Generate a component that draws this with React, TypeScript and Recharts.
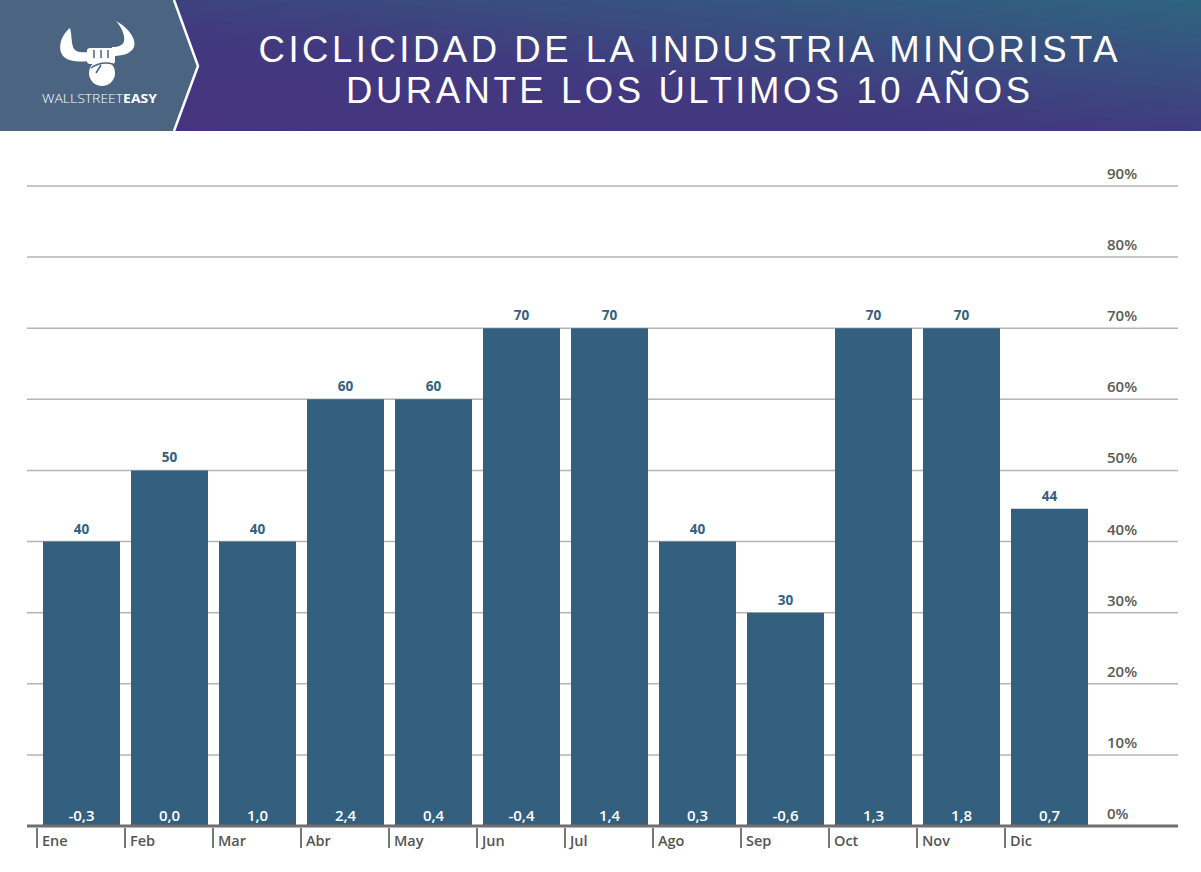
import React from "react";
import { BarChart, Bar, XAxis, YAxis, CartesianGrid, LabelList } from "recharts";

const months = ["Ene", "Feb", "Mar", "Abr", "May", "Jun", "Jul", "Ago", "Sep", "Oct", "Nov", "Dic"];
const positiveShare = [40, 50, 40, 60, 60, 70, 70, 40, 30, 70, 70, 44.6];
const avgChange = [-0.3, 0.0, 1.0, 2.4, 0.4, -0.4, 1.4, 0.3, -0.6, 1.3, 1.8, 0.7];
const yTicks = [0, 10, 20, 30, 40, 50, 60, 70, 80, 90];

const data = months.map((m, i) => ({ month: m, share: positiveShare[i], change: avgChange[i] }));

const FONT = "'Open Sans', 'DejaVu Sans', sans-serif";
const TITLE_FONT = "'Liberation Sans', Arial, sans-serif";
const BAR = "#33607f";
const HEAD = "#4a6482";

function Header() {
  return (
    <svg width={1201} height={131} style={{ display: "block" }}>
      <defs>
        <linearGradient id="hdr" x1="0" y1="1" x2="1" y2="0">
          <stop offset="0%" stopColor="#46327e" />
          <stop offset="45%" stopColor="#42397f" />
          <stop offset="100%" stopColor="#2f6480" />
        </linearGradient>
      </defs>
      <rect x={0} y={0} width={1201} height={131} fill="url(#hdr)" />
      <polygon points="0,0 174,0 198,66 174,131 0,131" fill={HEAD} />
      <polyline points="174,0 198,66 174,131" fill="none" stroke="#ffffff" strokeWidth={2.5} />
      {/* logo: horns + fist */}
      <g fill="#ffffff">
        <path d="M70 28 C60 36,57 50,64 57 C70 62,80 62,89 61 L89 52 C81 53,75 52,73 47 C71 41,72 35,70 28 Z" />
        <path d="M116 21 C127 27,137 38,134 47 C131 54,122 56,112 56 L112 47 C119 47,123 45,124 41 C125 35,122 28,116 21 Z" />
        <rect x={87} y={48} width={28} height={16} rx={3} />
        <circle cx={102} cy={73} r={13} />
      </g>
      <path d="M94 50 L94 58 M101 50 L101 58 M108 50 L108 58" stroke={HEAD} strokeWidth={1.5} />
      <path d="M91 68 Q101 61 113 64 M101 65 L96 73" stroke={HEAD} strokeWidth={1.5} fill="none" />
      <text x={42} y={103} fill="#ffffff" fontFamily={FONT} fontSize={13} textLength={115} lengthAdjust="spacingAndGlyphs">
        <tspan fontWeight={300}>WALLSTREET</tspan>
        <tspan fontWeight={700}>EASY</tspan>
      </text>
      <text x={688} y={62} textAnchor="middle" fill="#ffffff" fontFamily={TITLE_FONT} fontSize={36.5}
        textLength={859} lengthAdjust="spacing">
        CICLICIDAD DE LA INDUSTRIA MINORISTA
      </text>
      <text x={688} y={103} textAnchor="middle" fill="#ffffff" fontFamily={TITLE_FONT} fontSize={36.5}
        textLength={684} lengthAdjust="spacing">
        DURANTE LOS ÚLTIMOS 10 AÑOS
      </text>
    </svg>
  );
}

function MonthTick(props: any) {
  const { x, y, payload } = props;
  const half = payload && payload.offset ? payload.offset : 44;
  const left = x - half;
  return (
    <g>
      <line x1={left} y1={y - 6} x2={left} y2={y + 14} stroke="#777" strokeWidth={2} />
      <text x={left + 5} y={y + 12} fill="#555" fontFamily={FONT} fontWeight={600} fontSize={14.5}>
        {payload.value}
      </text>
    </g>
  );
}

function PctTick(props: any) {
  const { y, payload } = props;
  return (
    <text x={1107} y={y - 7} fill="#5a5a5a" fontFamily={FONT} fontWeight={600} fontSize={15}>
      {`${payload.value}%`}
    </text>
  );
}

export default function App() {
  return (
    <div style={{ position: "absolute", left: 0, top: 0, width: 1201, height: 872, background: "#fff" }}>
      <Header />
      <BarChart width={1201} height={741} data={data} margin={{ top: 55, right: 0, bottom: 16, left: 27 }}>
        <CartesianGrid vertical={false} stroke="#b5b5b5" strokeWidth={1.5} />
        <XAxis dataKey="month" height={30} padding={{ left: 10, right: 85 }} tickLine={false}
          axisLine={{ stroke: "#6e6e6e", strokeWidth: 3 }} tick={<MonthTick />} interval={0} />
        <YAxis orientation="right" width={23} domain={[0, 90]} ticks={yTicks} axisLine={false} tickLine={false}
          tick={<PctTick />} interval={0} />
        <Bar dataKey="share" fill={BAR} barSize={77} isAnimationActive={false}>
          <LabelList dataKey="share" position="top" offset={8} fill={BAR} fontFamily={FONT} fontWeight={700}
            fontSize={13.5} formatter={(v: any) => String(Math.floor(Number(v)))} />
          <LabelList dataKey="change" position="insideBottom" offset={5} fill="#ffffff" fontFamily={FONT}
            fontWeight={600} fontSize={15} formatter={(v: any) => Number(v).toFixed(1).replace(".", ",")} />
        </Bar>
      </BarChart>
    </div>
  );
}
